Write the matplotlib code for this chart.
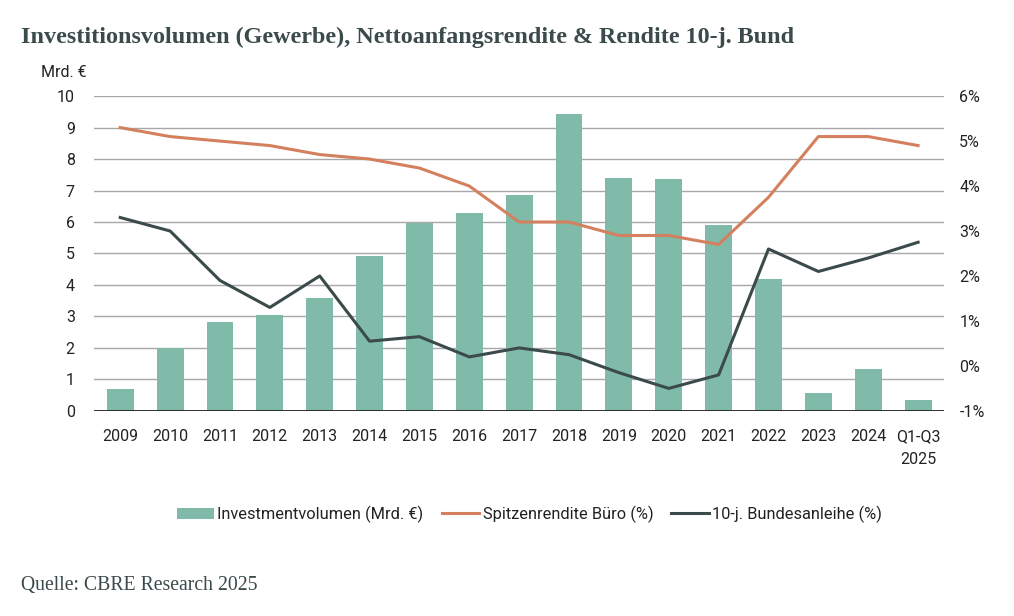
import matplotlib.pyplot as plt
import numpy as np

# Daten
jahre = ["2009", "2010", "2011", "2012", "2013", "2014", "2015", "2016", "2017",
         "2018", "2019", "2020", "2021", "2022", "2023", "2024", "Q1-Q3\n2025"]
volumen = [0.70, 2.0, 2.83, 3.05, 3.59, 4.92, 5.97, 6.29, 6.86,
           9.43, 7.40, 7.37, 5.90, 4.19, 0.57, 1.33, 0.35]
spitzenrendite = [5.3, 5.1, 5.0, 4.9, 4.7, 4.6, 4.4, 4.0, 3.2,
                  3.2, 2.9, 2.9, 2.7, 3.75, 5.1, 5.1, 4.9]
bund = [3.3, 3.0, 1.9, 1.3, 2.0, 0.55, 0.65, 0.2, 0.4,
        0.25, -0.15, -0.5, -0.2, 2.6, 2.1, 2.4, 2.75]

teal = "#80bbaa"
orange = "#d4805e"
dark = "#3b4a4a"
txt = "#222222"

plt.rcParams['font.family'] = ['Roboto', 'DejaVu Sans']

fig = plt.figure(figsize=(10.14, 6.16), dpi=100)
ax = fig.add_axes([0.093, 0.333, 0.838, 0.511])
ax2 = ax.twinx()

x = np.arange(len(jahre))
ax.bar(x, volumen, width=0.54, color=teal, zorder=2, label="Investmentvolumen (Mrd. €)")
ax2.plot(x, spitzenrendite, color=orange, lw=2.2, label="Spitzenrendite Büro (%)")
ax2.plot(x, bund, color=dark, lw=2.2, label="10-j. Bundesanleihe (%)")

ax.set_ylim(0, 10)
ax.set_yticks(range(0, 11))
ax2.set_ylim(-1, 6)
ax2.set_yticks(range(-1, 7))
ax2.set_yticklabels([f"{v}%" for v in range(-1, 7)])
ax.set_xlim(-0.52, 16.52)
ax.set_xticks(x)
ax.set_xticklabels(jahre, linespacing=1.7)

ax.grid(axis="y", color="#a8a8a8", lw=1, zorder=0)
ax.set_axisbelow(True)
for a in (ax, ax2):
    for s in ("top", "left", "right", "bottom"):
        a.spines[s].set_visible(False)
    a.tick_params(length=0, labelsize=11.5, colors=txt)
ax.axhline(0, color="#222222", lw=1.3, zorder=3)
ax.tick_params(axis="y", pad=14)
ax.tick_params(axis="x", pad=13)
ax2.tick_params(axis="y", pad=11)

fig.text(0.040, 0.875, "Mrd. €", fontsize=11.5, color=txt)

fig.text(0.021, 0.94, "Investitionsvolumen (Gewerbe), Nettoanfangsrendite & Rendite 10-j. Bund",
         family="Liberation Serif", fontsize=17.4, fontweight="bold", color="#3b4a4a", va="center")
fig.text(0.021, 0.050, "Quelle: CBRE Research 2025", family="Liberation Serif",
         fontsize=14.2, color="#3b4a4a", va="center")

h1, l1 = ax.get_legend_handles_labels()
h2, l2 = ax2.get_legend_handles_labels()
fig.legend(h1 + h2, l1 + l2, loc="center", bbox_to_anchor=(0.522, 0.165), ncol=3,
           frameon=False, fontsize=11.8, handlelength=2.3, handletextpad=0.2,
           columnspacing=1.1, labelcolor=txt)

fig.savefig("out.png", dpi=100)
